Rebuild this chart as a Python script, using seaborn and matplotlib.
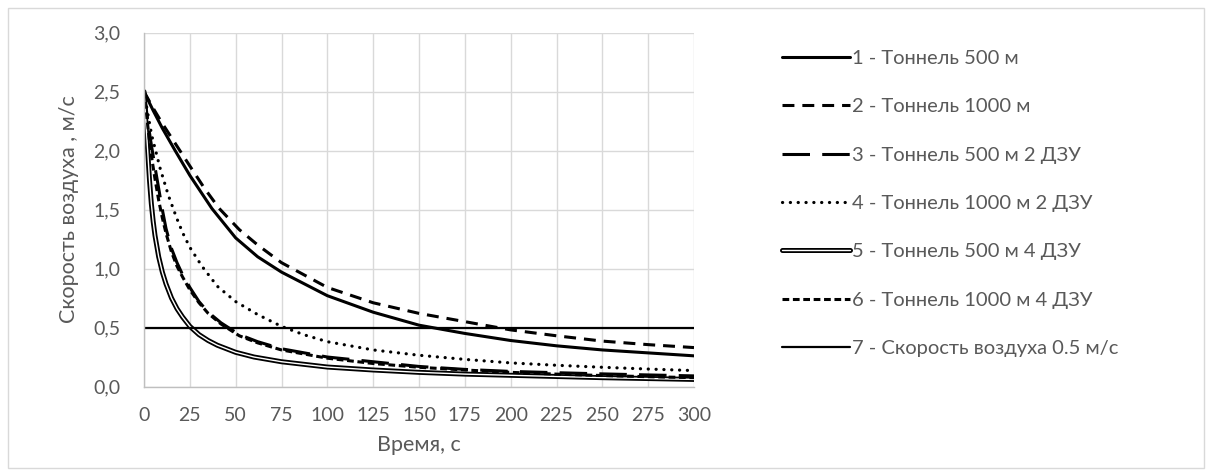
import matplotlib
matplotlib.use("Agg")
import matplotlib.pyplot as plt
import matplotlib.patheffects as pe
from matplotlib.patches import Rectangle
import seaborn as sns
import pandas as pd

# ---------------- data ----------------
t1 = [0, 5, 10, 17, 25, 37, 50, 62, 75, 100, 125, 150, 175, 200, 225, 250, 275, 300]
v1 = [2.5, 2.34, 2.19, 2.0, 1.79, 1.51, 1.26, 1.1, 0.97, 0.77, 0.63, 0.52, 0.45, 0.39, 0.345, 0.31, 0.285, 0.26]

t2 = [0, 5, 10, 15, 20, 25, 33, 41, 52, 62, 75, 100, 125, 150, 175, 200, 225, 250, 275, 300]
v2 = [2.5, 2.36, 2.23, 2.11, 1.99, 1.87, 1.68, 1.51, 1.33, 1.2, 1.05, 0.84, 0.71, 0.62, 0.55, 0.48, 0.43, 0.385, 0.355, 0.33]

t3 = [0, 1, 2, 3, 4, 6, 8, 10, 12, 15, 18, 21, 25, 30, 35, 42, 52, 62, 75, 100, 125, 150, 175, 200, 225, 250, 275, 300]
v3 = [2.5, 2.38, 2.26, 2.15, 2.05, 1.86, 1.68, 1.5, 1.34, 1.17, 1.05, 0.95, 0.84, 0.72, 0.63, 0.54, 0.44, 0.38, 0.32, 0.25, 0.21, 0.17, 0.145, 0.128, 0.117, 0.107, 0.098, 0.09]

t4 = [0, 2, 4.2, 8.8, 13.3, 17.9, 21.2, 25, 31.6, 40, 50, 62, 75, 87, 100, 125, 150, 175, 200, 225, 250, 275, 300]
v4 = [2.5, 2.32, 2.13, 1.85, 1.62, 1.425, 1.3, 1.18, 1.02, 0.85, 0.72, 0.61, 0.51, 0.44, 0.38, 0.31, 0.265, 0.23, 0.2, 0.18, 0.163, 0.148, 0.135]

t5 = [0, 1, 2, 3, 4, 5, 6, 8, 10, 12, 15, 18, 21, 25, 30, 35, 40, 50, 60, 75, 100, 125, 150, 175, 200, 250, 300]
v5 = [2.5, 2.25, 2.0, 1.75, 1.55, 1.4, 1.28, 1.1, 0.97, 0.87, 0.75, 0.66, 0.59, 0.51, 0.44, 0.39, 0.35, 0.29, 0.25, 0.21, 0.165, 0.14, 0.12, 0.105, 0.095, 0.075, 0.06]

t6 = [0, 1, 2, 3, 4, 6, 8, 10, 12, 15, 18, 21, 25, 30, 35, 42, 52, 62, 75, 100, 125, 150, 175, 200, 225, 250, 275, 300]
v6 = [2.5, 2.36, 2.22, 2.08, 1.96, 1.76, 1.58, 1.43, 1.3, 1.14, 1.02, 0.93, 0.82, 0.71, 0.62, 0.53, 0.43, 0.37, 0.31, 0.24, 0.195, 0.163, 0.14, 0.12, 0.105, 0.093, 0.083, 0.075]

t7 = [0, 300]
v7 = [0.5, 0.5]

labels = [
    "1 - Тоннель 500 м",
    "2 - Тоннель 1000 м",
    "3 - Тоннель 500 м 2 ДЗУ",
    "4 - Тоннель 1000 м 2 ДЗУ",
    "5 - Тоннель 500 м 4 ДЗУ",
    "6 - Тоннель 1000 м 4 ДЗУ",
    "7 - Скорость воздуха 0.5 м/с",
]

x_ticks = [0, 25, 50, 75, 100, 125, 150, 175, 200, 225, 250, 275, 300]
y_ticks = [0.0, 0.5, 1.0, 1.5, 2.0, 2.5, 3.0]
y_tick_labels = ["0,0", "0,5", "1,0", "1,5", "2,0", "2,5", "3,0"]
x_label = "Время, с"
y_label = "Скорость воздуха , м/с"

# ---------------- style ----------------
sns.set_style("white")
plt.rcParams["font.family"] = ["Lato", "DejaVu Sans"]
TXT = "#595959"
GRID = "#d9d9d9"

fig = plt.figure(figsize=(12.12, 4.76), dpi=100)
W, H = 1212, 476
ax = fig.add_axes([144 / W, 1 - 386.5 / H, 550 / W, (386.5 - 32.7) / H])

lw = 2.2
styles = [
    dict(linestyle="-", linewidth=lw),
    dict(linestyle=(0, (3.9, 2.6)), linewidth=lw),
    dict(linestyle=(0, (9.0, 4.0)), linewidth=lw),
    dict(linestyle=(0, (0.05, 2.4)), linewidth=2.3, dash_capstyle="round"),
    dict(linestyle="-", linewidth=1.0, color="white",
         path_effects=[pe.Stroke(linewidth=3.6, foreground="black"), pe.Normal()]),
    dict(linestyle=(0, (2.2, 1.2)), linewidth=lw),
    dict(linestyle="-", linewidth=1.6),
]
series = [(t1, v1), (t2, v2), (t3, v3), (t4, v4), (t5, v5), (t6, v6), (t7, v7)]

handles = []
for (tt, vv), lab, st in zip(series, labels, styles):
    kw = dict(st)
    color = kw.pop("color", "black")
    df = pd.DataFrame({"t": tt, "v": vv})
    sns.lineplot(data=df, x="t", y="v", ax=ax, color=color, errorbar=None,
                 legend=False, **kw)
    line = ax.lines[-1]
    line.set_label(lab)
    handles.append(line)
if ax.get_legend() is not None:
    ax.get_legend().remove()

ax.set_xlim(0, 300)
ax.set_ylim(0, 3.0)
ax.set_xticks(x_ticks)
ax.set_xticklabels([str(v) for v in x_ticks])
ax.set_yticks(y_ticks)
ax.set_yticklabels(y_tick_labels)
ax.grid(True, color=GRID, linewidth=1.0)
ax.set_axisbelow(True)
for s in ["top", "right"]:
    ax.spines[s].set_visible(False)
for s in ["left", "bottom"]:
    ax.spines[s].set_color("#bfbfbf")
    ax.spines[s].set_linewidth(1.0)
ax.tick_params(axis="both", length=0, labelsize=14, labelcolor=TXT)
ax.tick_params(axis="y", pad=17)
ax.tick_params(axis="x", pad=15)

ax.set_xlabel(x_label, fontsize=15.5, color=TXT)
ax.set_ylabel(y_label, fontsize=15.5, color=TXT)
ax.xaxis.set_label_coords(0.5, (386.5 - 435) / (386.5 - 32.7))
ax.yaxis.set_label_coords((79 - 144) / 550, 0.5)

fig.legend(handles=handles, labels=labels, loc="upper left",
           bbox_to_anchor=(782 / W, 1 - 50 / H), frameon=False,
           fontsize=14.5, labelcolor=TXT, handlelength=3.4, handletextpad=0.1,
           labelspacing=1.55, borderpad=0, borderaxespad=0)

fig.patches.append(Rectangle((8 / W, 8 / H), (1204 - 8) / W, (468 - 8) / H,
                             transform=fig.transFigure, fill=False,
                             edgecolor=GRID, linewidth=1.0))

fig.savefig("out.png", dpi=100, facecolor="white")
